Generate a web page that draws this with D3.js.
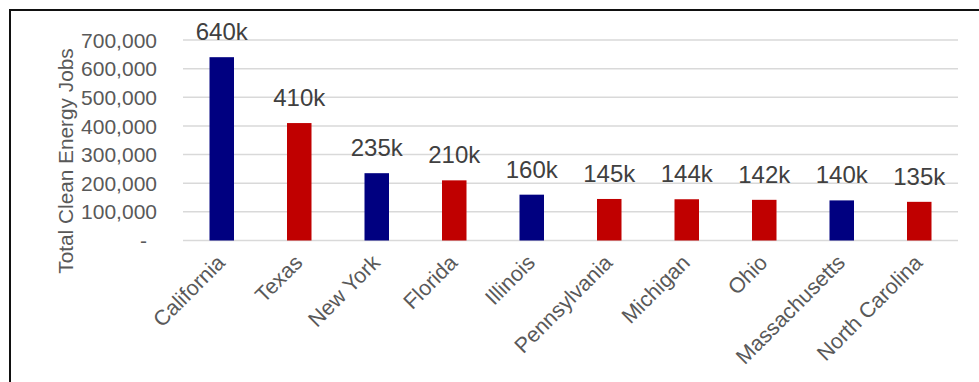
<!DOCTYPE html>
<html>
<head>
<meta charset="utf-8">
<script src="https://cdn.jsdelivr.net/npm/d3@7"></script>
<style>
  html, body { margin: 0; padding: 0; background: #fff; }
  svg { display: block; font-family: "Liberation Sans", Arial, sans-serif; }
</style>
</head>
<body>
<svg id="chart" width="979" height="382"></svg>
<script>
const states = ["California", "Texas", "New York", "Florida", "Illinois", "Pennsylvania", "Michigan", "Ohio", "Massachusetts", "North Carolina"];
const jobs = [640000, 410000, 235000, 210000, 160000, 145000, 144000, 142000, 140000, 135000];
const party = ["D", "R", "D", "R", "D", "R", "R", "R", "D", "R"];
const valueLabels = ["640k", "410k", "235k", "210k", "160k", "145k", "144k", "142k", "140k", "135k"];
const yTicks = [0, 100000, 200000, 300000, 400000, 500000, 600000, 700000];
const yTitle = "Total Clean Energy Jobs";

const colors = { D: "#000080", R: "#C00000" };

const svg = d3.select("#chart");
const plotLeft = 183, plotRight = 958, plotTop = 40, plotBottom = 240.5;

// outer border (only top and left are visible in frame)
svg.append("rect")
  .attr("x", 10).attr("y", 10)
  .attr("width", 1000).attr("height", 400)
  .attr("fill", "none").attr("stroke", "#111").attr("stroke-width", 2);

const x = d3.scaleBand().domain(states).range([plotLeft, plotRight]).paddingInner(0).paddingOuter(0);
const y = d3.scaleLinear().domain([0, 700000]).range([plotBottom, plotTop]);

// gridlines
svg.append("g").selectAll("line").data(yTicks).join("line")
  .attr("x1", plotLeft).attr("x2", plotRight)
  .attr("y1", d => y(d)).attr("y2", d => y(d))
  .attr("stroke", "#d9d9d9").attr("stroke-width", 1.5);

// y axis labels
const yAxis = d3.axisLeft(y).tickValues(yTicks)
  .tickFormat(d => d === 0 ? "-" : d3.format(",")(d))
  .tickSize(0).tickPadding(0);
const gy = svg.append("g").attr("transform", `translate(157,0)`).call(yAxis);
gy.select(".domain").remove();
gy.selectAll("text")
  .attr("fill", "#595959").attr("font-size", "21px")
  .attr("font-family", "Liberation Sans, Arial, sans-serif")
  .attr("dy", "0.34em")
  .attr("x", d => d === 0 ? -10 : 0);

// bars
const barW = 24.5;
const data = states.map((s, i) => ({ s, v: jobs[i], p: party[i], l: valueLabels[i] }));
svg.append("g").selectAll("rect").data(data).join("rect")
  .attr("x", d => x(d.s) + x.bandwidth() / 2 - barW / 2)
  .attr("width", barW)
  .attr("y", d => y(d.v))
  .attr("height", d => y(0) - y(d.v))
  .attr("fill", d => colors[d.p]);

// value labels
svg.append("g").selectAll("text").data(data).join("text")
  .attr("x", d => x(d.s) + x.bandwidth() / 2)
  .attr("y", d => y(d.v) - 17)
  .attr("text-anchor", "middle")
  .attr("font-size", "24px")
  .attr("fill", "#404040")
  .text(d => d.l);

// x labels
svg.append("g").selectAll("text").data(states).join("text")
  .attr("transform", d => `translate(${x(d) + x.bandwidth() / 2 + 4.5},264) rotate(-45)`)
  .attr("text-anchor", "end")
  .attr("font-size", "21.5px")
  .attr("fill", "#595959")
  .text(d => d);

// y title
svg.append("text")
  .attr("transform", `translate(73,161) rotate(-90)`)
  .attr("text-anchor", "middle")
  .attr("font-size", "20.8px")
  .attr("fill", "#595959")
  .text(yTitle);
</script>
</body>
</html>
